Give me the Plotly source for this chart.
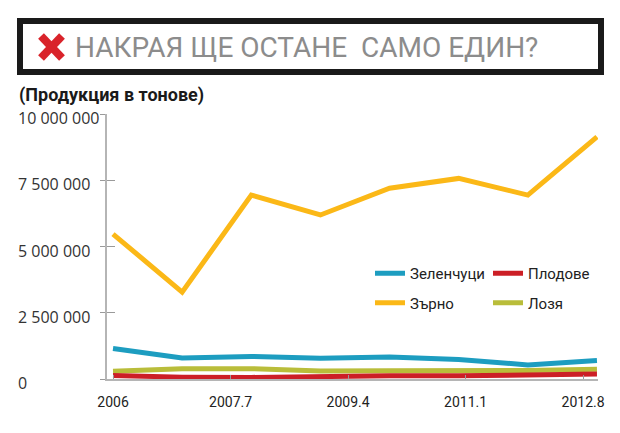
import plotly.graph_objects as go

# ---- data ----
years = [2006, 2007, 2008, 2009, 2010, 2011, 2012, 2013]
zelenchutsi = [1150000, 790000, 850000, 780000, 830000, 740000, 530000, 700000]
plodove = [130000, 70000, 60000, 110000, 120000, 120000, 140000, 190000]
zarno = [5470000, 3280000, 6940000, 6190000, 7200000, 7570000, 6940000, 9140000]
lozya = [290000, 390000, 390000, 300000, 310000, 310000, 320000, 370000]

series_names = ["Зеленчуци", "Плодове", "Зърно", "Лозя"]
series_colors = ["#1d9dc0", "#cc1f26", "#fbb817", "#b9bd3a"]

y_tick_vals = [0, 2500000, 5000000, 7500000, 10000000]
y_tick_text = ["0", "2 500 000", "5 000 000", "7 500 000", "10 000 000"]
x_tick_vals = [2006, 2007.7, 2009.4, 2011.1, 2012.8]
x_tick_text = ["2006", "2007.7", "2009.4", "2011.1", "2012.8"]

title_text = "НАКРАЯ ЩЕ ОСТАНЕ  САМО ЕДИН?"
subtitle_text = "(Продукция в тонове)"

# ---- layout geometry (reference pixels; page body has an 8px margin) ----
OFF = 8
W, H = 620 - OFF, 433 - OFF
PL, PR, PT, PB = 107, 598, 114, 379          # plot area in reference pixels
ML, MR, MT, MB = PL - OFF, 620 - PR, PT - OFF, 433 - PB
PW, PH = PR - PL, PB - PT

def px(x):
    return (x - PL) / PW

def py(y):
    return (PB - y) / PH

FONT = "Roboto, sans-serif"

fig = go.Figure()

data = {
    "Зеленчуци": zelenchutsi,
    "Плодове": plodove,
    "Зърно": zarno,
    "Лозя": lozya,
}
legend_of = {"Зеленчуци": "legend", "Зърно": "legend", "Плодове": "legend2", "Лозя": "legend2"}
draw_order = ["Лозя", "Плодове", "Зеленчуци", "Зърно"]
for name in draw_order:
    i = series_names.index(name)
    fig.add_trace(go.Scatter(
        x=years, y=data[name], name=name, mode="lines",
        line=dict(color=series_colors[i], width=5),
        legend=legend_of[name], legendrank=i + 1, legendgroup=name,
        hoverinfo="skip",
    ))

# helper trace so the inner y tick marks are drawn
fig.add_trace(go.Scatter(x=[years[0]], y=[0], yaxis="y2", mode="none",
                         showlegend=False, hoverinfo="skip"))

xr = [2005.913, 2013.015]
yr = [0, 10000000]

fig.update_layout(
    width=W, height=H,
    margin=dict(l=ML, r=MR, t=MT, b=MB),
    paper_bgcolor="white", plot_bgcolor="white",
    showlegend=True,
    xaxis=dict(
        range=xr, tickvals=x_tick_vals, ticktext=x_tick_text,
        showgrid=False, zeroline=False,
        showline=True, linecolor="#b5b5b5", linewidth=1.5,
        ticks="inside", ticklen=4, tickcolor="#9a9a9a", tickwidth=1,
        tickfont=dict(family=FONT, size=14, color="#222222"),
        ticklabelstandoff=9,
    ),
    yaxis=dict(
        range=yr, tickvals=y_tick_vals, showticklabels=False,
        showgrid=False, zeroline=False,
        showline=True, linecolor="#b5b5b5", linewidth=1.5,
        ticks="outside", ticklen=5, tickcolor="#9a9a9a", tickwidth=1,
    ),
    yaxis2=dict(
        range=yr, tickvals=y_tick_vals, showticklabels=False, overlaying="y",
        showgrid=False, zeroline=False, showline=False,
        ticks="inside", ticklen=8, tickcolor="#9a9a9a", tickwidth=1,
    ),
    legend=dict(
        x=px(370), y=py(257), xanchor="left", yanchor="top",
        orientation="v", bgcolor="rgba(0,0,0,0)", borderwidth=0,
        font=dict(family=FONT, size=15, color="#222222"),
        itemwidth=30, tracegroupgap=7, traceorder="grouped",
    ),
    legend2=dict(
        x=px(488), y=py(257), xanchor="left", yanchor="top",
        orientation="v", bgcolor="rgba(0,0,0,0)", borderwidth=0,
        font=dict(family=FONT, size=15, color="#222222"),
        itemwidth=30, tracegroupgap=7, traceorder="grouped",
    ),
)

# y tick labels (left aligned, like the reference)
for v, t in zip(y_tick_vals, y_tick_text):
    fig.add_annotation(
        x=px(16), xref="paper", y=v, yref="y", text=t, showarrow=False,
        xanchor="left", yanchor="middle", yshift=-4,
        font=dict(family="Open Sans, sans-serif", size=16, color="#333333"),
    )

# title box
fig.add_shape(type="rect", xref="paper", yref="paper",
              x0=px(20), x1=px(601), y0=py(21), y1=py(72),
              line=dict(color="#1a1a1a", width=6), fillcolor="white")
# red cross
fig.add_shape(type="line", xref="paper", yref="paper",
              x0=px(41), y0=py(36), x1=px(62), y1=py(58),
              line=dict(color="#d9232a", width=8))
fig.add_shape(type="line", xref="paper", yref="paper",
              x0=px(62), y0=py(36), x1=px(41), y1=py(58),
              line=dict(color="#d9232a", width=8))
fig.add_annotation(
    x=px(73), xref="paper", y=py(47), yref="paper", text=title_text,
    showarrow=False, xanchor="left", yanchor="middle",
    font=dict(family=FONT, size=28, color="#8c8c8c"),
)
fig.add_annotation(
    x=px(17), xref="paper", y=py(95), yref="paper", text="<b>" + subtitle_text + "</b>",
    showarrow=False, xanchor="left", yanchor="middle",
    font=dict(family=FONT, size=18, color="#1a1a1a"),
)

fig.write_html("out.html")
